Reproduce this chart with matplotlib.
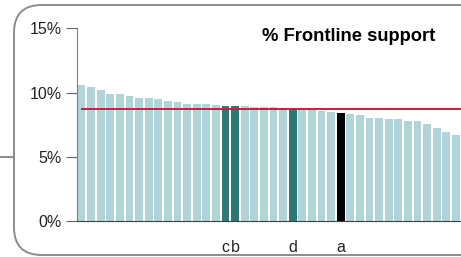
import numpy as np
import matplotlib.pyplot as plt
from matplotlib.patches import FancyBboxPatch
from matplotlib.lines import Line2D

plt.rcParams['font.family'] = ['Liberation Sans', 'DejaVu Sans']

# share of frontline support per unit, sorted (%)
support = [10.58, 10.45, 10.2, 9.9, 9.85, 9.72, 9.6, 9.55, 9.49, 9.34,
           9.28, 9.13, 9.13, 9.12, 9.03, 8.98, 8.98, 8.92, 8.87, 8.86,
           8.85, 8.72, 8.70, 8.65, 8.63, 8.57, 8.46, 8.40, 8.35, 8.26,
           8.04, 7.99, 7.96, 7.94, 7.81, 7.76, 7.52, 7.24, 6.93, 6.72]
highlight = {15: 'c', 16: 'b', 22: 'd', 27: 'a'}
average = 8.74

light = '#afd5d8'
dark = '#2f7877'

fig = plt.figure(figsize=(4.61, 2.57), dpi=100)

# rounded frame + connector on the left
frame = FancyBboxPatch((14 / 461, 2 / 257), 1.2, 250 / 257,
                       boxstyle='round,pad=0,rounding_size=0.06',
                       transform=fig.transFigure, fc='none', ec='#8c8c8c', lw=1.4,
                       mutation_aspect=461 / 257)
fig.patches.append(frame)
fig.lines.append(Line2D([0, 14 / 461], [1 - 157 / 257] * 2, transform=fig.transFigure,
                        color='#8c8c8c', lw=1.4))

ax = fig.add_axes([77 / 461, 1 - 221 / 257, 1 - 77 / 461, (221 - 28.3) / 257])
ax.patch.set_alpha(0)

x = np.arange(len(support))
colors = []
for i in x:
    if highlight.get(i) == 'a':
        colors.append('black')
    elif i in highlight:
        colors.append(dark)
    else:
        colors.append(light)
ax.bar(x, support, width=0.8, color=colors)
ax.plot([0, len(support)], [average, average], color='#d7163f', lw=1.4)

ax.set_xlim(-0.47, 39.53)
ax.set_ylim(0, 15)
ax.set_yticks([0, 5, 10, 15])
ax.set_yticklabels(['0%', '5%', '10%', '15%'], fontsize=11.5, color='#222222')
ax.set_xticks(list(highlight.keys()))
ax.set_xticklabels(list(highlight.values()), fontsize=11.5, color='#222222')
ax.tick_params(axis='x', length=0, pad=14)
ax.tick_params(axis='y', length=8, color='#666666', width=0.8, pad=3)
for s in ['top', 'right']:
    ax.spines[s].set_visible(False)
ax.spines['left'].set_color('#808080')
ax.spines['bottom'].set_color('#404040')

ax.text(18.8, 14.03, '% Frontline support', ha='left', va='baseline',
        fontsize=13.2, fontweight='bold')

fig.savefig('out.png', dpi=100)
